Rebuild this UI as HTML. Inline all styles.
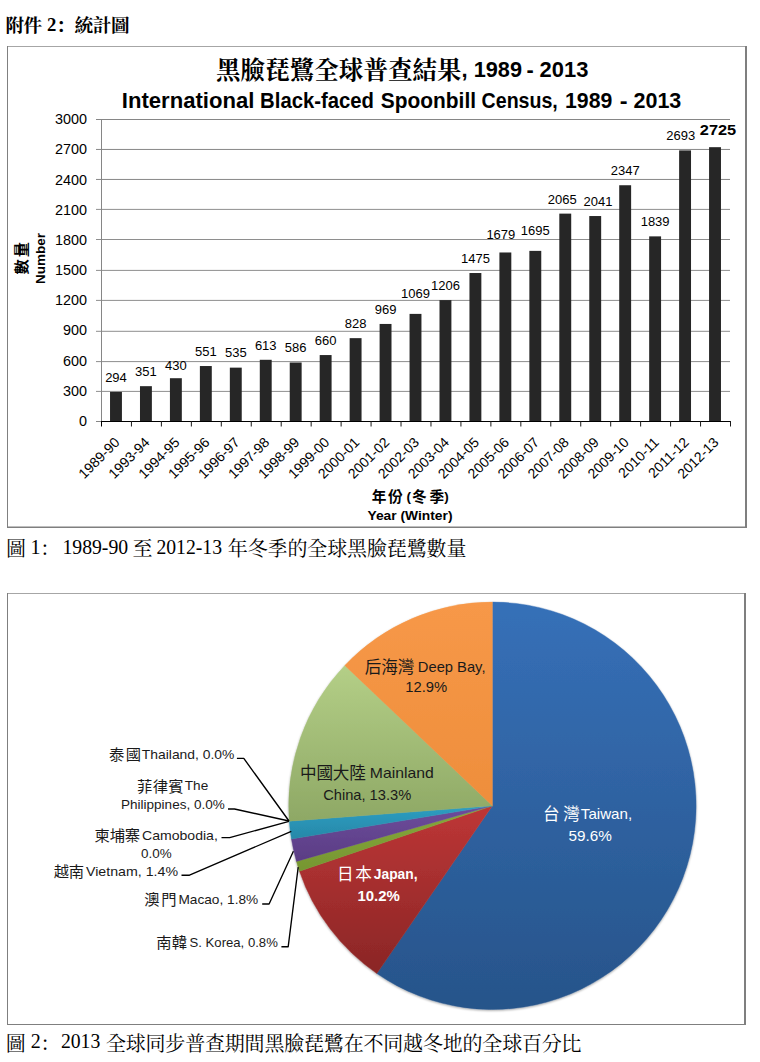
<!DOCTYPE html>
<html lang="zh-Hant">
<head>
<meta charset="utf-8">
<title>附件 2：統計圖</title>
<style>
html,body{margin:0;padding:0;background:#fff}
body{width:760px;height:1062px;overflow:hidden;font-family:"Liberation Sans","Noto Sans CJK TC",sans-serif}
svg{display:block;position:absolute;left:0;top:0}
svg text{font-family:"Liberation Sans","Noto Sans CJK TC",sans-serif;white-space:pre}
svg text.s{font-family:"Liberation Serif","Noto Serif CJK SC",serif}
</style>
</head>
<body>
<svg width="760" height="1062" viewBox="0 0 760 1062">
<defs>
<linearGradient id="s0" x1="0" y1="0" x2="0" y2="1"><stop offset="0" stop-color="#3670B8"/><stop offset="1" stop-color="#27548A"/></linearGradient><linearGradient id="s1" x1="0" y1="0" x2="0" y2="1"><stop offset="0" stop-color="#BE3636"/><stop offset="1" stop-color="#8A2626"/></linearGradient><linearGradient id="s2" x1="0" y1="0" x2="0" y2="1"><stop offset="0" stop-color="#86A83A"/><stop offset="1" stop-color="#769632"/></linearGradient><linearGradient id="s3" x1="0" y1="0" x2="0" y2="1"><stop offset="0" stop-color="#6E4C9C"/><stop offset="1" stop-color="#5A3D84"/></linearGradient><linearGradient id="s4" x1="0" y1="0" x2="0" y2="1"><stop offset="0" stop-color="#2E9EC2"/><stop offset="1" stop-color="#2688A8"/></linearGradient><linearGradient id="s5" x1="0" y1="0" x2="0" y2="1"><stop offset="0" stop-color="#B4CF87"/><stop offset="1" stop-color="#8EA865"/></linearGradient><linearGradient id="s6" x1="0" y1="0" x2="0" y2="1"><stop offset="0" stop-color="#F79848"/><stop offset="1" stop-color="#EE8E3C"/></linearGradient>
<filter id="sh" x="-5%" y="-5%" width="110%" height="110%"><feDropShadow dx="0" dy="1" stdDeviation="1.2" flood-color="#000" flood-opacity=".35"/></filter>
</defs>
<rect width="760" height="1062" fill="#fff"/>
<text x="5.50" y="32.39" font-size="18.67" class="s" font-weight="bold" fill="#000" textLength="36.6">附件</text>
<text x="47.00" y="31.00" font-size="18.67" class="s" font-weight="bold">2</text>
<text x="56.17" y="32.39" font-size="18.67" class="s" font-weight="bold" fill="#000">：</text>
<text x="74.40" y="32.39" font-size="18.67" class="s" font-weight="bold" fill="#000" textLength="55.2">統計圖</text>
<rect x="7.00" y="46.00" width="739.00" height="1.00" fill="#a6a6a6"/>
<rect x="7.00" y="46.00" width="1.00" height="482.00" fill="#808080"/>
<rect x="745.00" y="46.00" width="2.00" height="482.00" fill="#7f7f7f"/>
<rect x="7.00" y="526.50" width="740.00" height="1.50" fill="#7f7f7f"/>
<text x="216.00" y="79.31" font-size="24.5" class="s" font-weight="bold" fill="#000" textLength="245.6">黑臉琵鷺全球普查結果</text>
<text x="461.60" y="77.30" font-size="22" font-weight="bold">,</text>
<text x="473.70" y="77.30" font-size="21.5" font-weight="bold" textLength="48.3" lengthAdjust="spacingAndGlyphs">1989</text>
<text x="526.40" y="77.30" font-size="21.5" font-weight="bold" textLength="7.2" lengthAdjust="spacingAndGlyphs">-</text>
<text x="539.60" y="77.30" font-size="21.5" font-weight="bold" textLength="48.8" lengthAdjust="spacingAndGlyphs">2013</text>
<text x="121.80" y="107.90" font-size="22" font-weight="bold" textLength="132.5" lengthAdjust="spacingAndGlyphs">International</text>
<text x="260.10" y="107.90" font-size="22" font-weight="bold" textLength="113.9" lengthAdjust="spacingAndGlyphs">Black-faced</text>
<text x="380.80" y="107.90" font-size="22" font-weight="bold" textLength="95.2" lengthAdjust="spacingAndGlyphs">Spoonbill</text>
<text x="481.60" y="107.90" font-size="22" font-weight="bold" textLength="76.2" lengthAdjust="spacingAndGlyphs">Census,</text>
<text x="565.00" y="107.90" font-size="22" font-weight="bold" textLength="47.3" lengthAdjust="spacingAndGlyphs">1989</text>
<text x="619.70" y="107.90" font-size="22" font-weight="bold" textLength="7.8" lengthAdjust="spacingAndGlyphs">-</text>
<text x="633.50" y="107.90" font-size="22" font-weight="bold" textLength="47.8" lengthAdjust="spacingAndGlyphs">2013</text>
<line x1="96.00" y1="391.40" x2="730.00" y2="391.40" stroke="#8e8e8e" stroke-width="1"/>
<line x1="96.00" y1="361.60" x2="730.00" y2="361.60" stroke="#8e8e8e" stroke-width="1"/>
<line x1="96.00" y1="331.30" x2="730.00" y2="331.30" stroke="#8e8e8e" stroke-width="1"/>
<line x1="96.00" y1="300.40" x2="730.00" y2="300.40" stroke="#8e8e8e" stroke-width="1"/>
<line x1="96.00" y1="270.40" x2="730.00" y2="270.40" stroke="#8e8e8e" stroke-width="1"/>
<line x1="96.00" y1="239.50" x2="730.00" y2="239.50" stroke="#8e8e8e" stroke-width="1"/>
<line x1="96.00" y1="209.40" x2="730.00" y2="209.40" stroke="#8e8e8e" stroke-width="1"/>
<line x1="96.00" y1="179.45" x2="730.00" y2="179.45" stroke="#868686" stroke-width="1"/>
<line x1="96.00" y1="149.45" x2="730.00" y2="149.45" stroke="#868686" stroke-width="1"/>
<line x1="96.00" y1="119.50" x2="730.00" y2="119.50" stroke="#868686" stroke-width="1"/>
<text x="87.00" y="425.70" font-size="14.4" text-anchor="end">0</text>
<text x="87.00" y="395.70" font-size="14.4" text-anchor="end">300</text>
<text x="87.00" y="365.50" font-size="14.4" text-anchor="end">600</text>
<text x="87.00" y="335.10" font-size="14.4" text-anchor="end">900</text>
<text x="87.00" y="304.90" font-size="14.4" text-anchor="end">1200</text>
<text x="87.00" y="274.60" font-size="14.4" text-anchor="end">1500</text>
<text x="87.00" y="245.00" font-size="14.4" text-anchor="end">1800</text>
<text x="87.00" y="214.70" font-size="14.4" text-anchor="end">2100</text>
<text x="87.00" y="184.50" font-size="14.4" text-anchor="end">2400</text>
<text x="87.00" y="153.70" font-size="14.4" text-anchor="end">2700</text>
<text x="87.00" y="123.50" font-size="14.4" text-anchor="end">3000</text>
<line x1="101.50" y1="119.00" x2="101.50" y2="422.00" stroke="#868686" stroke-width="1"/>
<line x1="96.00" y1="421.50" x2="101.00" y2="421.50" stroke="#868686" stroke-width="1"/>
<rect x="110.03" y="391.90" width="11.90" height="29.60" fill="#262626"/>
<text x="115.98" y="381.70" font-size="13" text-anchor="middle">294</text>
<rect x="139.98" y="386.17" width="11.90" height="35.33" fill="#262626"/>
<text x="145.93" y="375.97" font-size="13" text-anchor="middle">351</text>
<rect x="169.93" y="378.21" width="11.90" height="43.29" fill="#262626"/>
<text x="175.88" y="369.61" font-size="13" text-anchor="middle">430</text>
<rect x="199.88" y="366.03" width="11.90" height="55.47" fill="#262626"/>
<text x="205.83" y="355.83" font-size="13" text-anchor="middle">551</text>
<rect x="229.84" y="367.64" width="11.90" height="53.86" fill="#262626"/>
<text x="235.79" y="357.44" font-size="13" text-anchor="middle">535</text>
<rect x="259.79" y="359.79" width="11.90" height="61.71" fill="#262626"/>
<text x="265.74" y="349.59" font-size="13" text-anchor="middle">613</text>
<rect x="289.74" y="362.51" width="11.90" height="58.99" fill="#262626"/>
<text x="295.69" y="352.31" font-size="13" text-anchor="middle">586</text>
<rect x="319.69" y="355.06" width="11.90" height="66.44" fill="#262626"/>
<text x="325.64" y="344.86" font-size="13" text-anchor="middle">660</text>
<rect x="349.65" y="338.15" width="11.90" height="83.35" fill="#262626"/>
<text x="355.60" y="327.95" font-size="13" text-anchor="middle">828</text>
<rect x="379.60" y="323.95" width="11.90" height="97.55" fill="#262626"/>
<text x="385.55" y="313.75" font-size="13" text-anchor="middle">969</text>
<rect x="409.55" y="313.89" width="11.90" height="107.61" fill="#262626"/>
<text x="415.50" y="297.89" font-size="13" text-anchor="middle">1069</text>
<rect x="439.50" y="300.10" width="11.90" height="121.40" fill="#262626"/>
<text x="445.45" y="289.90" font-size="13" text-anchor="middle">1206</text>
<rect x="469.45" y="273.02" width="11.90" height="148.48" fill="#262626"/>
<text x="475.40" y="262.82" font-size="13" text-anchor="middle">1475</text>
<rect x="499.41" y="252.48" width="11.90" height="169.02" fill="#262626"/>
<text x="500.86" y="238.98" font-size="13" text-anchor="middle">1679</text>
<rect x="529.36" y="250.87" width="11.90" height="170.63" fill="#262626"/>
<text x="535.31" y="235.37" font-size="13" text-anchor="middle">1695</text>
<rect x="559.31" y="213.62" width="11.90" height="207.88" fill="#262626"/>
<text x="562.26" y="203.62" font-size="13" text-anchor="middle">2065</text>
<rect x="589.26" y="216.04" width="11.90" height="205.46" fill="#262626"/>
<text x="597.91" y="205.54" font-size="13" text-anchor="middle">2041</text>
<rect x="619.22" y="185.24" width="11.90" height="236.26" fill="#262626"/>
<text x="625.17" y="175.04" font-size="13" text-anchor="middle">2347</text>
<rect x="649.17" y="236.37" width="11.90" height="185.13" fill="#262626"/>
<text x="655.12" y="226.17" font-size="13" text-anchor="middle">1839</text>
<rect x="679.12" y="150.40" width="11.90" height="271.10" fill="#262626"/>
<text x="680.67" y="140.40" font-size="13" text-anchor="middle">2693</text>
<rect x="709.07" y="147.18" width="11.90" height="274.32" fill="#262626"/>
<text x="718.02" y="135.48" font-size="15" text-anchor="middle" font-weight="bold" textLength="36.4" lengthAdjust="spacingAndGlyphs">2725</text>
<line x1="101.00" y1="421.50" x2="730.50" y2="421.50" stroke="#000" stroke-width="1"/>
<line x1="101.50" y1="421.00" x2="101.50" y2="426.50" stroke="#000" stroke-width="1"/>
<line x1="131.45" y1="421.00" x2="131.45" y2="426.50" stroke="#1a1a1a" stroke-width="1"/>
<line x1="161.40" y1="421.00" x2="161.40" y2="426.50" stroke="#1a1a1a" stroke-width="1"/>
<line x1="191.36" y1="421.00" x2="191.36" y2="426.50" stroke="#1a1a1a" stroke-width="1"/>
<line x1="221.31" y1="421.00" x2="221.31" y2="426.50" stroke="#1a1a1a" stroke-width="1"/>
<line x1="251.26" y1="421.00" x2="251.26" y2="426.50" stroke="#1a1a1a" stroke-width="1"/>
<line x1="281.21" y1="421.00" x2="281.21" y2="426.50" stroke="#1a1a1a" stroke-width="1"/>
<line x1="311.17" y1="421.00" x2="311.17" y2="426.50" stroke="#1a1a1a" stroke-width="1"/>
<line x1="341.12" y1="421.00" x2="341.12" y2="426.50" stroke="#1a1a1a" stroke-width="1"/>
<line x1="371.07" y1="421.00" x2="371.07" y2="426.50" stroke="#1a1a1a" stroke-width="1"/>
<line x1="401.02" y1="421.00" x2="401.02" y2="426.50" stroke="#1a1a1a" stroke-width="1"/>
<line x1="430.98" y1="421.00" x2="430.98" y2="426.50" stroke="#1a1a1a" stroke-width="1"/>
<line x1="460.93" y1="421.00" x2="460.93" y2="426.50" stroke="#1a1a1a" stroke-width="1"/>
<line x1="490.88" y1="421.00" x2="490.88" y2="426.50" stroke="#1a1a1a" stroke-width="1"/>
<line x1="520.83" y1="421.00" x2="520.83" y2="426.50" stroke="#1a1a1a" stroke-width="1"/>
<line x1="550.79" y1="421.00" x2="550.79" y2="426.50" stroke="#1a1a1a" stroke-width="1"/>
<line x1="580.74" y1="421.00" x2="580.74" y2="426.50" stroke="#1a1a1a" stroke-width="1"/>
<line x1="610.69" y1="421.00" x2="610.69" y2="426.50" stroke="#1a1a1a" stroke-width="1"/>
<line x1="640.64" y1="421.00" x2="640.64" y2="426.50" stroke="#1a1a1a" stroke-width="1"/>
<line x1="670.60" y1="421.00" x2="670.60" y2="426.50" stroke="#1a1a1a" stroke-width="1"/>
<line x1="700.55" y1="421.00" x2="700.55" y2="426.50" stroke="#1a1a1a" stroke-width="1"/>
<line x1="730.50" y1="421.00" x2="730.50" y2="426.50" stroke="#1a1a1a" stroke-width="1"/>
<text x="0.00" y="0.00" font-size="14" text-anchor="end" transform="translate(120.58 443.20) rotate(-45)">1989-90</text>
<text x="0.00" y="0.00" font-size="14" text-anchor="end" transform="translate(150.53 443.20) rotate(-45)">1993-94</text>
<text x="0.00" y="0.00" font-size="14" text-anchor="end" transform="translate(180.48 443.20) rotate(-45)">1994-95</text>
<text x="0.00" y="0.00" font-size="14" text-anchor="end" transform="translate(210.43 443.20) rotate(-45)">1995-96</text>
<text x="0.00" y="0.00" font-size="14" text-anchor="end" transform="translate(240.39 443.20) rotate(-45)">1996-97</text>
<text x="0.00" y="0.00" font-size="14" text-anchor="end" transform="translate(270.34 443.20) rotate(-45)">1997-98</text>
<text x="0.00" y="0.00" font-size="14" text-anchor="end" transform="translate(300.29 443.20) rotate(-45)">1998-99</text>
<text x="0.00" y="0.00" font-size="14" text-anchor="end" transform="translate(330.24 443.20) rotate(-45)">1999-00</text>
<text x="0.00" y="0.00" font-size="14" text-anchor="end" transform="translate(360.20 443.20) rotate(-45)">2000-01</text>
<text x="0.00" y="0.00" font-size="14" text-anchor="end" transform="translate(390.15 443.20) rotate(-45)">2001-02</text>
<text x="0.00" y="0.00" font-size="14" text-anchor="end" transform="translate(420.10 443.20) rotate(-45)">2002-03</text>
<text x="0.00" y="0.00" font-size="14" text-anchor="end" transform="translate(450.05 443.20) rotate(-45)">2003-04</text>
<text x="0.00" y="0.00" font-size="14" text-anchor="end" transform="translate(480.00 443.20) rotate(-45)">2004-05</text>
<text x="0.00" y="0.00" font-size="14" text-anchor="end" transform="translate(509.96 443.20) rotate(-45)">2005-06</text>
<text x="0.00" y="0.00" font-size="14" text-anchor="end" transform="translate(539.91 443.20) rotate(-45)">2006-07</text>
<text x="0.00" y="0.00" font-size="14" text-anchor="end" transform="translate(569.86 443.20) rotate(-45)">2007-08</text>
<text x="0.00" y="0.00" font-size="14" text-anchor="end" transform="translate(599.81 443.20) rotate(-45)">2008-09</text>
<text x="0.00" y="0.00" font-size="14" text-anchor="end" transform="translate(629.77 443.20) rotate(-45)">2009-10</text>
<text x="0.00" y="0.00" font-size="14" text-anchor="end" transform="translate(659.72 443.20) rotate(-45)">2010-11</text>
<text x="0.00" y="0.00" font-size="14" text-anchor="end" transform="translate(689.67 443.20) rotate(-45)">2011-12</text>
<text x="0.00" y="0.00" font-size="14" text-anchor="end" transform="translate(719.62 443.20) rotate(-45)">2012-13</text>
<text x="-15.60" y="5.78" font-size="15.2" font-weight="bold" fill="#000" textLength="32.4" transform="translate(21.1 258.8) rotate(-90)">數量</text>
<text x="0.00" y="0.00" font-size="13.5" text-anchor="middle" font-weight="bold" transform="translate(45.4 258.4) rotate(-90)">Number</text>
<text x="371.66" y="501.67" font-size="14.67" font-weight="bold" fill="#000" textLength="31.0">年份</text>
<text x="406.40" y="500.60" font-size="13.5" font-weight="bold">(</text>
<text x="412.10" y="501.67" font-size="14.67" font-weight="bold" fill="#000" textLength="32.0">冬季</text>
<text x="444.30" y="500.60" font-size="13.5" font-weight="bold">)</text>
<text x="410.00" y="519.60" font-size="13.5" text-anchor="middle" font-weight="bold" textLength="85.0" lengthAdjust="spacingAndGlyphs">Year (Winter)</text>
<text x="6.02" y="555.50" font-size="20" class="s" fill="#000">圖</text>
<text x="30.40" y="553.70" font-size="20" class="s">1</text>
<text x="40.20" y="555.50" font-size="20" class="s" fill="#000">：</text>
<text x="62.40" y="553.70" font-size="20" class="s" textLength="65.8" lengthAdjust="spacingAndGlyphs">1989-90</text>
<text x="132.45" y="555.50" font-size="20" class="s" fill="#000">至</text>
<text x="156.40" y="553.70" font-size="20" class="s" textLength="65.6" lengthAdjust="spacingAndGlyphs">2012-13</text>
<text x="227.76" y="555.50" font-size="20" class="s" fill="#000" textLength="238.7">年冬季的全球黑臉琵鷺數量</text>
<rect x="7.00" y="593.00" width="738.00" height="1.00" fill="#a6a6a6"/>
<rect x="7.00" y="593.00" width="1.00" height="432.00" fill="#7f7f7f"/>
<rect x="744.00" y="593.00" width="2.00" height="432.00" fill="#7f7f7f"/>
<rect x="7.00" y="1024.00" width="739.00" height="1.00" fill="#7f7f7f"/>
<g filter="url(#sh)">
<path d="M492.4 805.8L492.40 602.10A203.7 203.7 0 1 1 376.85 973.55Z" fill="url(#s0)" stroke="url(#s0)" stroke-width=".4"/>
<path d="M492.4 805.8L376.85 973.55A203.7 203.7 0 0 1 299.48 871.18Z" fill="url(#s1)" stroke="url(#s1)" stroke-width=".4"/>
<path d="M492.4 805.8L299.48 871.18A203.7 203.7 0 0 1 296.43 861.40Z" fill="url(#s2)" stroke="url(#s2)" stroke-width=".4"/>
<path d="M492.4 805.8L296.43 861.40A203.7 203.7 0 0 1 291.41 838.93Z" fill="url(#s3)" stroke="url(#s3)" stroke-width=".4"/>
<path d="M492.4 805.8L291.41 838.93A203.7 203.7 0 0 1 289.28 821.14Z" fill="url(#s4)" stroke="url(#s4)" stroke-width=".4"/>
<path d="M492.4 805.8L289.28 821.14A203.7 203.7 0 0 1 344.79 665.43Z" fill="url(#s5)" stroke="url(#s5)" stroke-width=".4"/>
<path d="M492.4 805.8L344.79 665.43A203.7 203.7 0 0 1 492.40 602.10Z" fill="url(#s6)" stroke="url(#s6)" stroke-width=".4"/>
</g>
<path d="M236.9 758.4L243.8 758.4L289.0 821.0" fill="none" stroke="#000" stroke-width="1.35" stroke-linejoin="round"/>
<path d="M228.0 809.0L234.5 809.0L289.0 821.0" fill="none" stroke="#000" stroke-width="1.35" stroke-linejoin="round"/>
<path d="M221.5 837.6L229.7 837.6L289.0 821.4" fill="none" stroke="#000" stroke-width="1.35" stroke-linejoin="round"/>
<path d="M181.5 875.2L189.5 875.2L291.3 831.3" fill="none" stroke="#000" stroke-width="1.35" stroke-linejoin="round"/>
<path d="M262.2 904.0L269.1 904.0L293.4 851.3" fill="none" stroke="#000" stroke-width="1.35" stroke-linejoin="round"/>
<path d="M281.4 946.7L288.2 946.7L298.2 867.2" fill="none" stroke="#000" stroke-width="1.35" stroke-linejoin="round"/>
<text x="108.93" y="760.21" font-size="15.3" fill="#1a1a1a" textLength="32.2">泰國</text>
<text x="141.80" y="758.80" font-size="13.5" textLength="92.6" lengthAdjust="spacingAndGlyphs" fill="#1a1a1a">Thailand, 0.0%</text>
<text x="137.08" y="791.61" font-size="15.3" fill="#1a1a1a" textLength="46.5">菲律賓</text>
<text x="184.80" y="790.20" font-size="13.5" textLength="23.4" lengthAdjust="spacingAndGlyphs" fill="#1a1a1a">The</text>
<text x="121.00" y="808.90" font-size="13.5" textLength="103.8" lengthAdjust="spacingAndGlyphs" fill="#1a1a1a">Philippines, 0.0%</text>
<text x="94.44" y="841.41" font-size="15.3" fill="#1a1a1a" textLength="45.7">柬埔寨</text>
<text x="142.00" y="840.00" font-size="13.5" textLength="75.8" lengthAdjust="spacingAndGlyphs" fill="#1a1a1a">Camobodia,</text>
<text x="141.00" y="857.70" font-size="13.5" textLength="30.6" lengthAdjust="spacingAndGlyphs" fill="#1a1a1a">0.0%</text>
<text x="53.79" y="876.91" font-size="15.3" fill="#1a1a1a" textLength="30.3">越南</text>
<text x="86.00" y="875.50" font-size="13.5" textLength="92.0" lengthAdjust="spacingAndGlyphs" fill="#1a1a1a">Vietnam, 1.4%</text>
<text x="144.24" y="905.41" font-size="15.3" fill="#1a1a1a" textLength="32.2">澳門</text>
<text x="178.40" y="904.00" font-size="13.5" textLength="79.8" lengthAdjust="spacingAndGlyphs" fill="#1a1a1a">Macao, 1.8%</text>
<text x="156.28" y="948.41" font-size="15.3" fill="#1a1a1a" textLength="30.9">南韓</text>
<text x="189.60" y="947.00" font-size="13.5" textLength="88.2" lengthAdjust="spacingAndGlyphs" fill="#1a1a1a">S. Korea, 0.8%</text>
<text x="364.77" y="673.13" font-size="16.6" fill="#1a1a1a" textLength="49.6">后海灣</text>
<text x="417.80" y="671.60" font-size="14.5" textLength="67.7" lengthAdjust="spacingAndGlyphs" fill="#1a1a1a">Deep Bay,</text>
<text x="405.20" y="692.30" font-size="14.5" textLength="42.0" lengthAdjust="spacingAndGlyphs" fill="#1a1a1a">12.9%</text>
<text x="300.00" y="779.33" font-size="16.6" fill="#1a1a1a" textLength="65.9">中國大陸</text>
<text x="369.80" y="777.80" font-size="14.5" textLength="64.0" lengthAdjust="spacingAndGlyphs" fill="#1a1a1a">Mainland</text>
<text x="323.20" y="799.60" font-size="14.5" textLength="88.0" lengthAdjust="spacingAndGlyphs" fill="#1a1a1a">China, 13.3%</text>
<text x="543.11" y="820.03" font-size="16.6" fill="#fff" textLength="36.7">台灣</text>
<text x="580.80" y="818.50" font-size="14.5" textLength="51.4" lengthAdjust="spacingAndGlyphs" fill="#fff">Taiwan,</text>
<text x="568.40" y="840.60" font-size="14.5" textLength="43.4" lengthAdjust="spacingAndGlyphs" fill="#fff">59.6%</text>
<text x="337.08" y="880.03" font-size="16.6" fill="#fff" textLength="34.8">日本</text>
<text x="373.80" y="878.50" font-size="14.5" font-weight="bold" textLength="43.7" lengthAdjust="spacingAndGlyphs" fill="#fff">Japan,</text>
<text x="357.40" y="900.60" font-size="14.5" font-weight="bold" textLength="42.4" lengthAdjust="spacingAndGlyphs" fill="#fff">10.2%</text>
<text x="5.72" y="1050.50" font-size="20" class="s" fill="#000">圖</text>
<text x="30.80" y="1048.40" font-size="20" class="s">2</text>
<text x="40.40" y="1050.50" font-size="20" class="s" fill="#000">：</text>
<text x="60.90" y="1048.40" font-size="20" class="s" textLength="39.4" lengthAdjust="spacingAndGlyphs">2013</text>
<text x="105.91" y="1050.50" font-size="20" class="s" fill="#000" textLength="475.7">全球同步普查期間黑臉琵鷺在不同越冬地的全球百分比</text>
</svg>
</body>
</html>
